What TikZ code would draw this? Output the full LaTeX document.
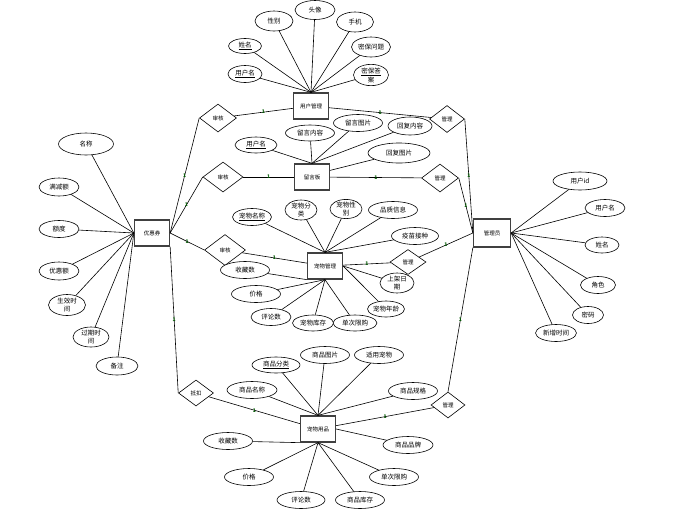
\documentclass[tikz,border=0pt]{standalone}
\usepackage{fontspec}
\setmainfont{Noto Sans CJK SC}
\usetikzlibrary{shapes.geometric}
\begin{document}
\begin{tikzpicture}[x=1pt,y=-1pt,
  ent/.style={draw=black!75, line width=1.3pt, fill=white, minimum width=35pt, minimum height=26pt, inner sep=0pt, font=\fontsize{5.5}{6}\selectfont},
  attr/.style={ellipse, draw, line width=0.6pt, fill=white, minimum width=48pt, minimum height=17pt, inner sep=0pt, align=center, font=\fontsize{6.5}{7.5}\selectfont},
  rel/.style={diamond, draw, line width=0.6pt, fill=white, minimum width=37pt, minimum height=28pt, inner sep=0pt, font=\fontsize{5.5}{6}\selectfont},
  conn/.style={line width=0.6pt},
  card/.style={font=\fontsize{5}{5}\selectfont\bfseries, inner sep=0.3pt, text=green!35!black}
]
\useasboundingbox (0,0) rectangle (680,520);

% entities
\node[ent] (user) at (311,106) {用户管理};
\node[ent] (msg) at (312,177) {留言板};
\node[ent] (pet) at (325,266) {宠物管理};
\node[ent] (coupon) at (152,233) {优惠券};
\node[ent, minimum width=37pt, minimum height=28pt] (admin) at (492,233) {管理员};
\node[ent] (goods) at (318,429) {宠物用品};

% relations
\node[rel] (r1) at (218,118) {审核};
\node[rel, minimum width=40pt, minimum height=30pt] (r2) at (223,177) {审核};
\node[rel, minimum width=41pt, minimum height=31pt] (r3) at (225,250) {审核};
\node[rel, minimum width=35pt, minimum height=26pt] (r4) at (196,393) {抵扣};
\node[rel, minimum width=35pt, minimum height=27pt] (m1) at (447,119) {管理};
\node[rel] (m2) at (440,178) {管理};
\node[rel, minimum width=36pt, minimum height=25pt] (m3) at (408,262) {管理};
\node[rel, minimum width=34pt, minimum height=26pt] (m4) at (448,405) {管理};

% user attributes
\node[attr, minimum width=34pt] (u1) at (245,74) {\underline{用户名}};
\node[attr, minimum width=33pt, minimum height=15pt] (u2) at (245,46) {\underline{姓名}};
\node[attr, minimum width=38pt, minimum height=20pt] (u3) at (274,21) {性别};
\node[attr, minimum width=40pt, minimum height=19pt] (u4) at (315,10) {头像};
\node[attr, minimum width=37pt, minimum height=20pt] (u5) at (355,22) {手机};
\node[attr, minimum width=39pt, minimum height=20pt] (u6) at (371,47) {密保问题};
\node[attr, minimum width=35pt, minimum height=21pt] (u7) at (371,75) {\underline{密保答}\\案};
\foreach \a in {u1,u2,u3,u4,u5,u6,u7} \draw[conn] (\a) -- (user.north);

% message board attributes
\node[attr, minimum width=42pt, minimum height=16pt] (g1) at (256,145) {\underline{用户名}};
\node[attr, minimum width=49pt, minimum height=16pt] (g2) at (310,133) {留言内容};
\node[attr, minimum width=49pt] (g3) at (358,123) {留言图片};
\node[attr, minimum width=44pt, minimum height=18pt] (g4) at (410,126) {回复内容};
\node[attr, minimum width=62pt, minimum height=20pt] (g5) at (399,153) {回复图片};
\foreach \a in {g1,g2,g3,g4} \draw[conn] (\a) -- (msg.north);
\draw[conn] (g5) -- (msg.20);

% pet attributes
\node[attr, minimum width=39pt] (p1) at (252,217) {\underline{宠物名称}};
\node[attr, minimum width=32pt, minimum height=20pt] (p2) at (301,210) {宠物分\\类};
\node[attr, minimum width=32pt, minimum height=19pt] (p3) at (346,209) {宠物性\\别};
\node[attr, minimum width=49pt] (p4) at (393,210) {品质信息};
\node[attr, minimum width=47pt] (p5) at (415,236) {疫苗接种};
\node[attr, minimum width=34pt, minimum height=20pt] (p6) at (397,283) {上架日\\期};
\node[attr, minimum width=37pt, minimum height=16pt] (p7) at (386,309) {宠物年龄};
\node[attr, minimum width=44pt, minimum height=16pt] (p8) at (355,323) {单次限购};
\node[attr, minimum width=41pt, minimum height=16pt] (p9) at (313,323) {宠物库存};
\node[attr, minimum width=40pt] (p10) at (271,317) {评论数};
\node[attr, minimum width=49pt] (p11) at (256,294) {价格};
\node[attr, minimum width=49pt] (p12) at (245,270) {收藏数};
\foreach \a in {p1,p2,p3,p4,p5} \draw[conn] (\a) -- (pet.north);
\foreach \a in {p6,p7} \draw[conn] (\a) -- (pet.east);
\foreach \a in {p8,p9,p10,p11} \draw[conn] (\a) -- (pet.south);
\draw[conn] (p12) -- (pet.south west);

% coupon attributes
\node[attr, minimum width=55pt, minimum height=22pt] (c1) at (86,144) {名称};
\node[attr, minimum width=40pt, minimum height=18pt] (c2) at (59,187) {满减额};
\node[attr, minimum width=40pt] (c3) at (59,229) {额度};
\node[attr, minimum width=40pt, minimum height=18pt] (c4) at (59,271) {优惠额};
\node[attr, minimum width=37pt, minimum height=21pt] (c5) at (67,305) {生效时\\间};
\node[attr, minimum width=36pt, minimum height=20pt] (c6) at (91,337) {过期时\\间};
\node[attr, minimum width=42pt, minimum height=18pt] (c7) at (117,366) {备注};
\foreach \a in {c1,c2,c3,c4,c5,c6,c7} \draw[conn] (\a) -- (coupon.west);

% admin attributes
\node[attr, minimum width=54pt, minimum height=18pt] (a1) at (580,181) {用户id};
\node[attr, minimum width=40pt] (a2) at (605,208) {用户名};
\node[attr, minimum width=34pt, minimum height=16pt] (a3) at (602,245) {姓名};
\node[attr, minimum width=35pt] (a4) at (598,285) {角色};
\node[attr, minimum width=31pt] (a5) at (588,315) {密码};
\node[attr, minimum width=41pt] (a6) at (556,333) {新增时间};
\foreach \a in {a1,a2,a3,a4,a5,a6} \draw[conn] (\a) -- (admin.east);

% goods attributes
\node[attr, minimum width=50pt] (s1) at (252,390) {商品名称};
\node[attr, minimum width=48pt, minimum height=16pt] (s2) at (276,365) {\underline{商品分类}};
\node[attr, minimum width=49pt] (s3) at (325,355) {商品图片};
\node[attr, minimum width=49pt] (s4) at (379,355) {适用宠物};
\node[attr, minimum width=49pt] (s5) at (413,391) {商品规格};
\node[attr, minimum width=50pt] (s6) at (408,445) {商品品牌};
\node[attr, minimum width=49pt] (s7) at (394,477) {单次限购};
\node[attr, minimum width=49pt] (s8) at (360,500) {商品库存};
\node[attr, minimum width=48pt] (s9) at (301,500) {评论数};
\node[attr, minimum width=49pt] (s10) at (249,477) {价格};
\node[attr, minimum width=49pt] (s11) at (228,441) {收藏数};
\foreach \a in {s1,s2,s3,s4,s5} \draw[conn] (\a) -- (goods.north);
\draw[conn] (s6) -- (goods.east);
\foreach \a in {s7,s8,s9,s10} \draw[conn] (\a) -- (goods.south);
\draw[conn] (s11) -- (goods.south west);

% relationship connectors
\draw[conn] (r1) -- node[card]{1} (user);
\draw[conn] (user) -- node[card]{1} (m1);
\draw[conn] (m1.east) -- node[card]{1} (admin.west);
\draw[conn] (r2) -- node[card]{1} (msg);
\draw[conn] (msg) -- node[card]{1} (m2);
\draw[conn] (m2.east) -- node[card]{1} (admin.west);
\draw[conn] (r3) -- node[card]{1} (pet);
\draw[conn] (pet) -- node[card]{1} (m3);
\draw[conn] (m3) -- node[card]{1} (admin.west);
\draw[conn] (coupon.east) -- node[card]{1} (r1.west);
\draw[conn] (coupon.east) -- node[card]{1} (r2.west);
\draw[conn] (coupon.east) -- node[card]{1} (r3.west);
\draw[conn] (coupon.south east) -- node[card]{1} (r4.west);
\draw[conn] (r4) -- node[card]{1} (goods);
\draw[conn] (goods) -- node[card]{1} (m4);
\draw[conn] (m4.north) -- node[card]{1} (admin.south west);
\end{tikzpicture}
\end{document}
